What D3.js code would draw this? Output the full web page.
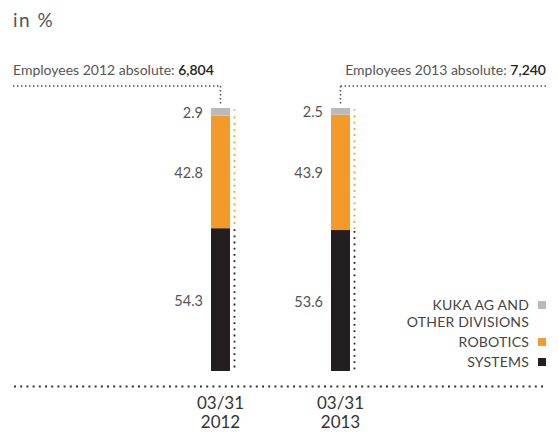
<!DOCTYPE html>
<html>
<head>
<meta charset="utf-8">
<script src="https://cdn.jsdelivr.net/npm/d3@7"></script>
<style>
  body { margin: 0; background: #fff; }
  svg { display: block; font-family: Lato, "Open Sans", sans-serif; }
</style>
</head>
<body>
<div id="container"></div>
<script>
"use strict";

// chart data
const dates = ["03/31 2012", "03/31 2013"];
const dateLines = [["03/31", "2012"], ["03/31", "2013"]];
const segments = ["SYSTEMS", "ROBOTICS", "KUKA AG AND OTHER DIVISIONS"];
const systems = [54.3, 53.6];
const robotics = [42.8, 43.9];
const other = [2.9, 2.5];
const employeesLabel = ["Employees 2012 absolute: ", "Employees 2013 absolute: "];
const employees = ["6,804", "7,240"];
const legendLines = [["KUKA AG AND", "OTHER DIVISIONS"], ["ROBOTICS"], ["SYSTEMS"]];

const colors = {
  "SYSTEMS": "#231f20",
  "ROBOTICS": "#f39a2b",
  "KUKA AG AND OTHER DIVISIONS": "#b9babd"
};

const width = 558, height = 432;

const svg = d3.select("#container")
    .append("svg")
    .attr("width", width)
    .attr("height", height);

const x = d3.scalePoint()
    .domain(dates)
    .range([220.5, 340.5]);

const y = d3.scaleLinear()
    .domain([0, 100])
    .range([371, 108]);

const barW = 19;

// stack
const rows = dates.map((d, i) => ({
  date: d,
  "SYSTEMS": systems[i],
  "ROBOTICS": robotics[i],
  "KUKA AG AND OTHER DIVISIONS": other[i]
}));
const stacked = d3.stack().keys(segments)(rows);

// title
svg.append("text")
    .attr("x", 13)
    .attr("y", 27)
    .style("font-size", "19px")
    .style("fill", "#555")
    .style("letter-spacing", "1.5px")
    .text("in %");

// bars
const layers = svg.selectAll(".layer")
  .data(stacked)
  .enter()
  .append("g")
    .attr("class", "layer")
    .style("fill", d => colors[d.key]);

layers.selectAll("rect")
  .data(d => d)
  .enter()
  .append("rect")
    .attr("x", d => x(d.data.date) - barW / 2)
    .attr("y", d => y(d[1]))
    .attr("width", barW)
    .attr("height", d => y(d[0]) - y(d[1]));

// dotted line next to each segment
layers.selectAll("line")
  .data(d => d)
  .enter()
  .append("line")
    .attr("x1", d => x(d.data.date) + barW / 2 + 4.5)
    .attr("x2", d => x(d.data.date) + barW / 2 + 4.5)
    .attr("y1", d => y(d[1]) + 1)
    .attr("y2", d => y(d[0]))
    .style("stroke", function() { return d3.select(this.parentNode).style("fill"); })
    .style("stroke-width", 1.8)
    .style("stroke-dasharray", "1.8 4.4");

// value labels
layers.selectAll("text")
  .data(d => d)
  .enter()
  .append("text")
    .attr("x", d => x(d.data.date) - barW / 2 - 8)
    .attr("y", d => (y(d[0]) + y(d[1])) / 2 + 1)
    .attr("dy", "0.35em")
    .attr("text-anchor", "end")
    .style("font-size", "14.5px")
    .style("fill", "#555")
    .text(d => (d[1] - d[0]).toFixed(1));

// baseline
svg.append("line")
    .attr("x1", 14)
    .attr("x2", 546)
    .attr("y1", 386.5)
    .attr("y2", 386.5)
    .style("stroke", "#333")
    .style("stroke-width", 2)
    .style("stroke-dasharray", "2 4.2");

// x labels
dates.forEach((d, i) => {
  dateLines[i].forEach((ln, j) => {
    svg.append("text")
        .attr("x", x(d))
        .attr("y", 403 + j * 19)
        .attr("dy", "0.35em")
        .attr("text-anchor", "middle")
        .style("font-size", "17px")
        .style("fill", "#333")
        .text(ln);
  });
});

// employee annotations
const lineY = 86;
dates.forEach((d, i) => {
  const left = i === 0;
  const t = svg.append("text")
      .attr("x", left ? 13 : 546)
      .attr("y", 75)
      .attr("text-anchor", left ? "start" : "end")
      .style("font-size", "14px")
      .style("fill", "#555");
  t.append("tspan").text(employeesLabel[i]);
  t.append("tspan").style("fill", "#222").style("font-weight", 600).text(employees[i]);

  svg.append("line")
      .attr("x1", left ? 13 : x(d))
      .attr("x2", left ? x(d) : 546)
      .attr("y1", lineY)
      .attr("y2", lineY)
      .style("stroke", "#555")
      .style("stroke-width", 1.5)
      .style("stroke-dasharray", "1.5 2.5");

  svg.append("line")
      .attr("x1", x(d))
      .attr("x2", x(d))
      .attr("y1", lineY)
      .attr("y2", y(100) - 4)
      .style("stroke", "#555")
      .style("stroke-width", 1.5)
      .style("stroke-dasharray", "1.5 2.5");
});

// legend
const legendKeys = ["KUKA AG AND OTHER DIVISIONS", "ROBOTICS", "SYSTEMS"];
const legendY = [305, 342, 362];
legendKeys.forEach((k, i) => {
  const g = svg.append("g");
  g.append("rect")
      .attr("x", 538)
      .attr("y", legendY[i] - 4)
      .attr("width", 8)
      .attr("height", 8)
      .style("fill", colors[k]);
  legendLines[i].forEach((ln, j) => {
    g.append("text")
        .attr("x", 529)
        .attr("y", legendY[i] + j * 17)
        .attr("dy", "0.35em")
        .attr("text-anchor", "end")
        .style("font-size", "14px")
        .style("letter-spacing", "0.2px")
        .style("fill", "#444")
        .text(ln);
  });
});
</script>
</body>
</html>
